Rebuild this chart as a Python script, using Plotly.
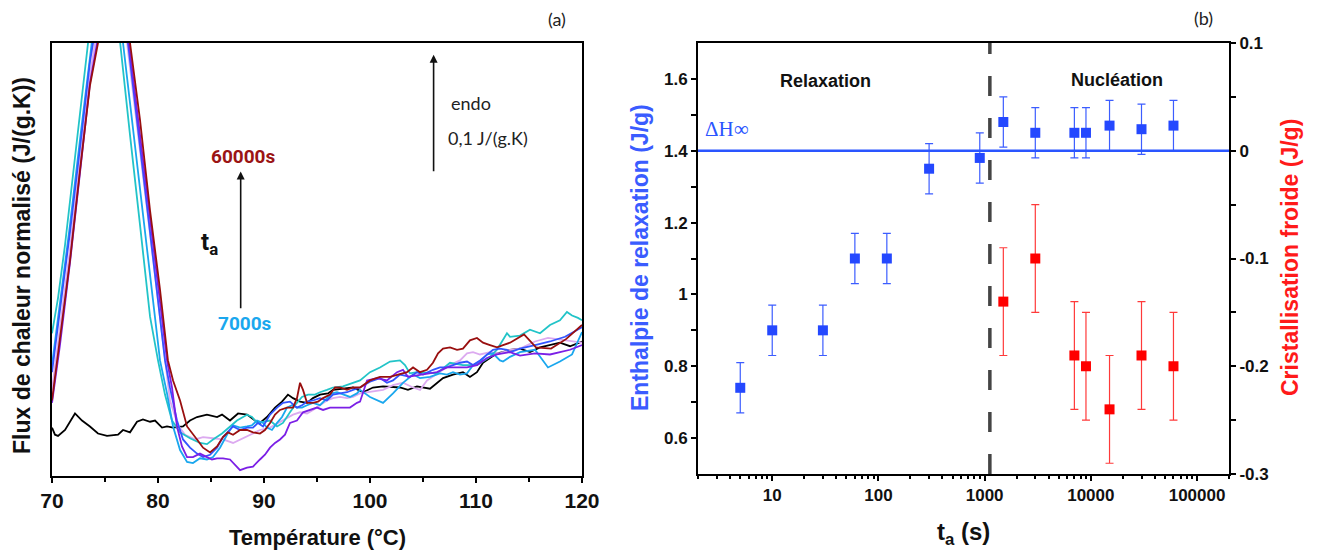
import math
import plotly.graph_objects as go

# ---------------- Panel (a): DSC curves (T in °C, heat flow in J/(g.K), offset arbitrary) ----------------
T_ref = [70.0,70.28,70.57,71.23,72.17,72.83,73.58,74.34,75.19,76.23,76.70,77.36,78.02,78.58,79.25,79.72,80.38,80.85,81.42,82.36,83.02,83.68,84.62,85.57,86.04,86.79,87.55,88.40,89.15,89.62,90.28,91.04,91.70,92.26,92.74,93.40,94.06,94.62,95.28,96.04,96.51,97.45,98.40,99.34,100.28,101.23,102.83,103.58,104.43,105.66,106.32,106.89,107.83,108.77,109.43,110.09,110.66,111.32,111.98,112.55,113.21,114.15,115.09,116.04,116.98,117.92,118.87,120.0]
V_ref = [0.041,0.035,0.034,0.039,0.053,0.047,0.042,0.036,0.034,0.035,0.039,0.037,0.046,0.048,0.046,0.047,0.041,0.042,0.041,0.042,0.047,0.050,0.052,0.050,0.052,0.047,0.053,0.052,0.047,0.045,0.050,0.058,0.063,0.069,0.066,0.063,0.062,0.066,0.069,0.070,0.073,0.074,0.075,0.071,0.075,0.076,0.075,0.073,0.076,0.074,0.079,0.083,0.086,0.088,0.084,0.088,0.096,0.100,0.104,0.105,0.107,0.108,0.105,0.109,0.111,0.113,0.110,0.114]

T_lav = [70.0,70.75,71.70,72.64,73.58,74.06,74.9,75.8,76.6,77.08,78.02,78.96,79.91,81.13,81.89,82.55,83.49,84.25,85.19,86.13,87.08,87.74,88.68,89.62,90.57,91.51,92.17,92.74,93.40,94.06,94.62,95.28,95.94,96.51,97.17,97.83,98.40,99.06,101.23,102.17,103.11,104.06,104.72,105.38,107.55,108.49,109.15,109.72,110.38,111.32,112.26,113.21,114.15,115.57,116.79,118.49,120.0]
V_lav = [0.073,0.124,0.192,0.266,0.340,0.367,0.43,0.45,0.42,0.367,0.297,0.226,0.156,0.064,0.043,0.035,0.031,0.033,0.032,0.031,0.028,0.031,0.035,0.039,0.041,0.046,0.049,0.052,0.054,0.053,0.056,0.060,0.064,0.066,0.067,0.066,0.067,0.070,0.073,0.077,0.079,0.075,0.073,0.081,0.094,0.098,0.104,0.105,0.103,0.105,0.104,0.107,0.108,0.114,0.117,0.115,0.113]

T_turq = [70.0,70.57,71.23,71.89,72.64,73.40,74.2,75.0,75.8,76.42,77.36,78.30,79.25,80.00,80.66,81.32,82.08,83.02,83.96,84.62,85.19,86.04,86.79,87.45,88.40,88.87,89.34,89.91,90.57,91.23,91.79,92.45,92.92,93.58,94.15,94.81,95.28,95.94,96.51,97.45,98.40,99.06,100.00,100.94,101.89,102.83,103.30,103.77,104.43,106.32,107.55,108.77,110.09,111.32,111.98,112.55,112.92,113.21,114.15,115.09,116.04,116.98,117.92,118.58,119.06,119.62,120.0]
V_turq = [0.121,0.151,0.196,0.247,0.310,0.367,0.42,0.45,0.42,0.367,0.289,0.213,0.135,0.098,0.069,0.047,0.037,0.032,0.028,0.027,0.031,0.036,0.042,0.047,0.052,0.050,0.045,0.046,0.047,0.042,0.045,0.054,0.060,0.067,0.069,0.069,0.071,0.073,0.075,0.076,0.079,0.081,0.088,0.092,0.097,0.098,0.094,0.087,0.088,0.087,0.096,0.094,0.094,0.101,0.107,0.115,0.121,0.118,0.119,0.124,0.121,0.128,0.132,0.139,0.136,0.134,0.132]

T_sky = [70.0,70.75,71.70,72.64,73.58,73.77,74.6,75.5,76.3,76.70,77.64,78.58,79.53,80.19,80.85,81.42,82.08,82.74,83.30,83.96,84.62,85.19,85.85,86.51,87.08,87.74,88.40,88.87,89.34,89.91,90.28,90.75,91.23,91.70,92.17,92.64,93.11,93.58,94.06,94.62,95.28,95.94,96.42,96.89,97.45,98.11,98.77,99.06,100.0,101.23,102.17,103.11,104.06,104.72,105.66,106.60,107.26,107.83,108.49,109.15,109.72,110.38,111.04,111.60,112.26,112.55,113.21,114.15,115.57,116.79,117.92,119.06,120.0]
V_sky = [0.094,0.145,0.213,0.285,0.357,0.367,0.43,0.45,0.42,0.367,0.294,0.222,0.149,0.098,0.070,0.042,0.022,0.012,0.011,0.015,0.014,0.016,0.024,0.035,0.043,0.041,0.042,0.043,0.047,0.045,0.041,0.039,0.045,0.050,0.058,0.060,0.058,0.058,0.060,0.062,0.060,0.066,0.070,0.071,0.069,0.067,0.070,0.073,0.067,0.062,0.070,0.079,0.086,0.083,0.084,0.087,0.086,0.088,0.086,0.087,0.094,0.097,0.103,0.104,0.098,0.097,0.101,0.105,0.107,0.092,0.097,0.103,0.122]

T_blue = [70.0,70.75,71.70,72.64,73.58,73.87,74.7,75.6,76.4,77.17,78.11,79.06,80.00,80.66,81.13,81.79,82.36,83.02,83.68,84.25,84.91,85.57,86.13,86.79,87.08,87.74,88.40,88.96,89.43,89.91,90.57,91.23,91.79,92.45,93.11,93.58,94.06,94.62,95.28,95.94,96.51,97.17,97.83,98.40,99.06,100.0,100.94,101.60,102.17,102.83,103.77,104.43,105.0,105.94,106.60,107.26,107.83,108.49,109.15,109.72,110.38,111.04,111.60,112.26,112.92,113.21,114.15,115.57,116.98,118.40,120.0]
V_blue = [0.088,0.139,0.207,0.278,0.351,0.367,0.43,0.45,0.42,0.367,0.294,0.222,0.149,0.098,0.075,0.047,0.031,0.024,0.019,0.016,0.018,0.024,0.033,0.039,0.042,0.039,0.041,0.041,0.045,0.042,0.052,0.058,0.062,0.063,0.058,0.060,0.063,0.064,0.066,0.064,0.069,0.070,0.071,0.073,0.075,0.080,0.083,0.079,0.081,0.086,0.084,0.088,0.086,0.090,0.092,0.092,0.094,0.096,0.097,0.094,0.098,0.103,0.107,0.108,0.107,0.105,0.108,0.111,0.114,0.118,0.126]

T_purp = [70.0,70.75,71.70,72.64,73.58,74.25,75.1,76.0,76.9,77.26,78.21,79.15,80.09,80.85,81.32,81.79,82.26,82.74,83.30,83.96,84.62,85.09,85.57,86.13,86.79,87.45,87.74,88.40,88.96,89.62,90.09,90.57,91.04,91.51,91.98,92.45,93.11,93.68,94.34,95.00,95.57,96.23,96.89,97.45,98.11,98.77,99.06,99.72,100.66,101.60,102.55,103.11,103.58,106.32,107.26,108.21,109.15,110.09,111.04,111.98,112.55,113.21,114.15,115.57,116.98,117.92,118.87,120.0]
V_purp = [0.062,0.111,0.181,0.258,0.333,0.367,0.42,0.44,0.41,0.367,0.297,0.225,0.155,0.098,0.075,0.042,0.025,0.016,0.016,0.019,0.016,0.014,0.015,0.015,0.014,0.008,0.005,0.007,0.008,0.014,0.018,0.024,0.028,0.031,0.035,0.045,0.047,0.054,0.056,0.058,0.056,0.058,0.058,0.058,0.058,0.062,0.063,0.081,0.083,0.081,0.088,0.090,0.084,0.088,0.092,0.092,0.092,0.094,0.100,0.103,0.104,0.105,0.102,0.104,0.103,0.105,0.107,0.111]

T_red = [70.0,70.75,71.70,72.64,73.58,74.34,75.2,76.0,76.8,77.36,78.30,79.25,80.19,80.94,81.42,82.08,82.74,83.68,84.25,84.91,85.57,86.13,86.60,87.08,87.74,88.40,88.96,89.62,90.09,90.57,91.04,91.51,92.17,92.74,93.11,93.40,93.68,94.06,94.62,95.09,95.57,96.23,96.70,97.17,97.83,98.40,99.06,100.00,100.94,101.89,102.83,103.49,104.06,104.72,105.38,105.94,106.42,106.89,107.55,108.21,108.77,109.43,110.09,110.66,111.32,111.98,112.55,113.21,114.53,115.66,117.08,118.49,120.0]
V_red = [0.064,0.115,0.183,0.259,0.331,0.367,0.42,0.44,0.41,0.367,0.302,0.225,0.158,0.098,0.081,0.064,0.042,0.031,0.024,0.020,0.025,0.033,0.037,0.035,0.039,0.039,0.037,0.036,0.039,0.045,0.052,0.056,0.058,0.058,0.066,0.079,0.073,0.062,0.062,0.063,0.066,0.069,0.075,0.075,0.073,0.075,0.075,0.081,0.084,0.084,0.086,0.088,0.092,0.088,0.090,0.096,0.104,0.108,0.109,0.107,0.108,0.115,0.117,0.113,0.111,0.109,0.111,0.113,0.120,0.109,0.108,0.116,0.128]

T_TICKS = [70, 80, 90, 100, 110, 120]
ENDO_SCALE = 0.1          # J/(g.K) scale bar
ENDO_T, ENDO_V0 = 106.0, 0.257
TA_T, TA_V0, TA_V1 = 87.8, 0.141, 0.258

# ---------------- Panel (b): enthalpy vs ageing time ----------------
ta_relax = [5, 10, 30, 60, 120, 300, 900, 1500, 3000, 7000, 9000, 15000, 30000, 60000]
dH_relax = [0.74, 0.90, 0.90, 1.10, 1.10, 1.35, 1.38, 1.48, 1.45, 1.45, 1.45, 1.47, 1.46, 1.47]
dH_relax_err = [0.07] * 14

ta_cryst = [1500, 3000, 7000, 9000, 15000, 30000, 60000]
dH_cryst = [-0.14, -0.10, -0.19, -0.20, -0.24, -0.19, -0.20]
dH_cryst_err = [0.05] * 7

DH_INF = 1.4
TA_BOUNDARY = 1120

x2_ticks = [10, 100, 1000, 10000, 100000]
x2_ticktext = ["10", "100", "1000", "10000", "100000"]
y2_ticks = [0.6, 0.8, 1.0, 1.2, 1.4, 1.6]
y2_minor = [0.7, 0.9, 1.1, 1.3, 1.5]
y3_ticks = [-0.3, -0.2, -0.1, 0.0, 0.1]
y3_ticktext = ["-0.3", "-0.2", "-0.1", "0", "0.1"]
y3_minor = [-0.25, -0.15, -0.05, 0.05]

# ---------------- styling ----------------
W, H = 1318, 553
def PX(x): return x / W
def PY(y): return 1 - y / H

NARROW = "Liberation Sans Narrow, Arial Narrow, Liberation Sans, Arial"
ARIAL = "Liberation Sans, Arial, sans-serif"
CALIBRI = "Lato"
SERIF = "Liberation Serif"

C_BLUE = "#2448ff"

fig = go.Figure()

curves = [
    (T_ref, V_ref, "#000000"),
    (T_lav, V_lav, "#dcaaf0"),
    (T_turq, V_turq, "#22c4c8"),
    (T_sky, V_sky, "#1aa7ee"),
    (T_blue, V_blue, "#3355ff"),
    (T_purp, V_purp, "#7b1fe6"),
    (T_red, V_red, "#990f0f"),
]
for tx, vy, col in curves:
    fig.add_trace(go.Scatter(x=tx, y=vy, mode="lines", line=dict(color=col, width=1.8),
                             xaxis="x", yaxis="y", hoverinfo="skip"))

fig.add_trace(go.Scatter(
    x=ta_relax, y=dH_relax, mode="markers", xaxis="x2", yaxis="y2",
    marker=dict(symbol="square", size=10, color=C_BLUE),
    error_y=dict(type="data", array=dH_relax_err, color="#3c5dff", thickness=1.2, width=4)))
fig.add_trace(go.Scatter(
    x=ta_cryst, y=dH_cryst, mode="markers", xaxis="x2", yaxis="y3",
    marker=dict(symbol="square", size=10, color="#ff0000"),
    error_y=dict(type="data", array=dH_cryst_err, color="#ff3a3a", thickness=1.2, width=4)))

axis_common = dict(showline=True, linecolor="black", linewidth=2, showgrid=False, zeroline=False,
                   ticks="outside", tickcolor="black", tickwidth=1.5, automargin=False)

fig.update_layout(
    template="none",
    width=W, height=H, margin=dict(l=0, r=0, t=0, b=0, autoexpand=False),
    paper_bgcolor="white", plot_bgcolor="white", showlegend=False,
    xaxis=dict(domain=[PX(52), PX(582)], range=[70, 120], anchor="y", mirror=True,
               tickvals=T_TICKS, ticklen=5,
               minor=dict(dtick=5, tick0=70, ticks="outside", ticklen=4, tickcolor="black", tickwidth=1.5),
               tickfont=dict(family=NARROW, size=21, color="#111", weight="bold"),
               **axis_common),
    yaxis=dict(domain=[PY(476), PY(43)], range=[0, 0.367], anchor="x", mirror=True,
               showline=True, linecolor="black", linewidth=2, showgrid=False, zeroline=False,
               ticks="", showticklabels=False, automargin=False),
    xaxis2=dict(domain=[PX(698), PX(1229)], type="log", range=[math.log10(2), math.log10(200000)],
                anchor="y2", mirror=True, tickvals=x2_ticks, ticktext=x2_ticktext, ticklen=5,
                minor=dict(tickvals=[m * 10 ** d for d in range(0, 6) for m in range(2, 10)],
                           ticks="outside", ticklen=3, tickcolor="black", tickwidth=1.5),
                tickfont=dict(family=ARIAL, size=17, color="#111", weight="bold"),
                **axis_common),
    yaxis2=dict(domain=[PY(474), PY(43)], range=[0.5, 1.7], anchor="x2",
                tickvals=y2_ticks, ticklen=5,
                minor=dict(tickvals=y2_minor, ticks="outside", ticklen=5, tickcolor="black", tickwidth=1.5),
                tickfont=dict(family=ARIAL, size=17, color="#111", weight="bold"),
                **axis_common),
    yaxis3=dict(overlaying="y2", side="right", range=[-0.3, 0.1], anchor="x2",
                tickvals=y3_ticks, ticktext=y3_ticktext, ticklen=5,
                minor=dict(tickvals=y3_minor, ticks="outside", ticklen=5, tickcolor="black", tickwidth=1.5),
                tickfont=dict(family=ARIAL, size=17, color="#111", weight="bold"),
                **axis_common),
)

# reference lines in panel (b)
fig.add_shape(type="line", xref="x2 domain", yref="y2", x0=0, x1=1, y0=DH_INF, y1=DH_INF,
              line=dict(color="#2a55ff", width=2.5))
fig.add_shape(type="line", xref="x2", yref="y2 domain", x0=TA_BOUNDARY, x1=TA_BOUNDARY, y0=0, y1=1,
              line=dict(color="#444444", width=3.5, dash="20px,22px"))

ann = []
def text(x, y, s, size, color="#111", family=ARIAL, bold=True, angle=0, xanchor="center"):
    f = dict(size=size, color=color, family=family)
    if bold:
        f["weight"] = "bold"
    ann.append(dict(x=PX(x), y=PY(y), xref="paper", yref="paper", text=s, showarrow=False,
                    textangle=angle, xanchor=xanchor, yanchor="middle", font=f))

# panel (a) texts
text(557, 19, "(a)", 18, "#222", CALIBRI, False)
text(22, 266, "Flux de chaleur normalisé (J/(g.K))", 23, "#111", ARIAL, True, -90)
text(317, 537, "Température (°C)", 22, "#111", NARROW, True)
text(449, 103, "endo", 18, "#222", CALIBRI, False, xanchor="left")
text(446, 138, "0,1 J/(g.K)", 18, "#222", CALIBRI, False, xanchor="left")
text(244, 156, "60000s", 19, "#9b1414", "Roboto", True)
text(245, 323, "7000s", 19, "#1aa7ee", "Roboto", True)
text(209, 243, "t<sub>a</sub>", 24, "#111", "Roboto", True)

# panel (b) texts
text(1203, 18, "(b)", 18, "#222", CALIBRI, False)
text(825, 81, "Relaxation", 18, "#111", ARIAL, True)
text(1117, 80, "Nucléation", 18, "#111", ARIAL, True)
text(703, 129, "ΔH∞", 21, "#2a55ff", SERIF, False, xanchor="left")
text(640, 258, "Enthalpie de relaxation (J/g)", 23, "#3a5cff", ARIAL, True, -90)
text(1290, 258, "Cristallisation froide (J/g)", 23, "#ff1a1a", ARIAL, True, -90)
text(963, 533, "t<sub>a</sub> (s)", 24, "#111", ARIAL, True)

# arrows (panel a), drawn in data coordinates
ann.append(dict(x=ENDO_T, y=ENDO_V0 + ENDO_SCALE, ax=ENDO_T, ay=ENDO_V0, xref="x", yref="y",
                axref="x", ayref="y", showarrow=True, arrowhead=2, arrowsize=1, arrowwidth=1.6,
                arrowcolor="#111", text=""))
ann.append(dict(x=TA_T, y=TA_V1, ax=TA_T, ay=TA_V0, xref="x", yref="y",
                axref="x", ayref="y", showarrow=True, arrowhead=2, arrowsize=1, arrowwidth=1.6,
                arrowcolor="#111", text=""))

fig.update_layout(annotations=ann)
fig.write_html("out.html", config={"displayModeBar": False},
               post_script="document.body.style.margin='0px';document.body.style.overflow='hidden';")
